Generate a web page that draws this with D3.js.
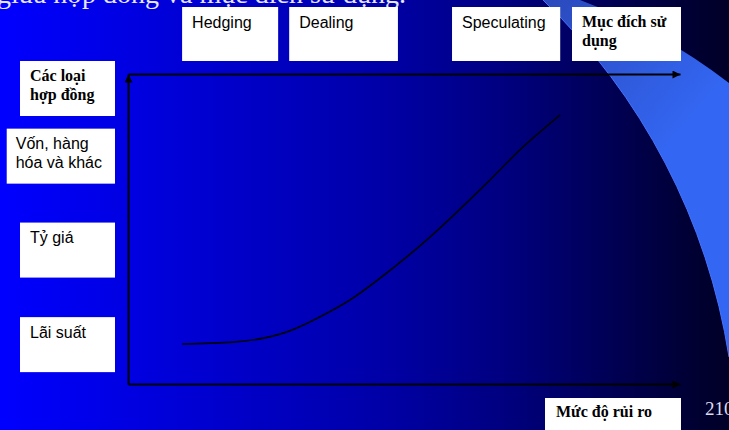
<!DOCTYPE html>
<html>
<head>
<meta charset="utf-8">
<script src="https://cdn.jsdelivr.net/npm/d3@7"></script>
<style>
  body { margin: 0; background: #00002a; overflow: hidden; }
  svg { display: block; }
  .box { fill: #fff; }
  .sans { font-family: 'Liberation Sans', Arial, sans-serif; font-size: 16px; fill: #000; }
  .serif-bold { font-family: 'Liberation Serif', 'Times New Roman', serif; font-size: 16px; font-weight: bold; fill: #000; }
  .axis path.domain { stroke: #000; stroke-width: 2; }
</style>
</head>
<body>
<svg id="chart" width="729" height="430"></svg>
<script>
// Loai hop dong (truc doc), tu duoi len; muc rui ro tuong ung (0-100)
var contractTypes = [['Lãi suất'], ['Tỷ giá'], ['Vốn, hàng', 'hóa và  khác']];
var contractLevels = [12.7, 43.2, 73.5];

// Muc dich su dung (truc ngang): khoang rui ro tu .. den
var purposes = ['Hedging', 'Dealing', 'Speculating'];
var purposeFrom = [9.8, 29.2, 58.7];
var purposeTo = [27.2, 48.9, 78.3];

// Duong cong rui ro
var riskX = [9.8, 19.0, 28.8, 36.1, 40.2, 45.7, 54.7, 65.0, 71.0, 78.3];
var riskY = [12.9, 13.5, 16.8, 22.9, 27.1, 34.2, 47.4, 64.8, 75.5, 86.8];

var yTitle = ['Các loại', 'hợp đồng'];
var xTopTitle = ['Mục đích sử', 'dụng'];
var xBottomTitle = 'Mức độ rủi ro';
var slideTitle = 'Mối quan hệ giữa hợp đồng và mục đích sử dụng.';
var pageNumber = '210';

var svg = d3.select('#chart');
var W = 729, H = 430;

var x = d3.scaleLinear().domain([0, 100]).range([128, 680]);
var y = d3.scaleLinear().domain([0, 100]).range([384, 74]);

/*
 * Background gradient + decorative band
 */
var defs = svg.append('defs');
var bg = defs.append('linearGradient').attr('id', 'bg')
  .attr('x1', 0).attr('x2', 1).attr('y1', 0).attr('y2', 0);
[[0, '#0000ff'], [0.14, '#0000e8'], [0.52, '#0000a8'], [0.69, '#000080'], [0.96, '#000030'], [1, '#000028']]
  .forEach(function(s) {
    bg.append('stop').attr('offset', s[0]).attr('stop-color', s[1]);
  });

var bandGrad = defs.append('linearGradient').attr('id', 'band')
  .attr('gradientUnits', 'userSpaceOnUse')
  .attr('x1', 550).attr('y1', 0).attr('x2', 690).attr('y2', 120);
bandGrad.append('stop').attr('offset', 0).attr('stop-color', '#2b4abd');
bandGrad.append('stop').attr('offset', 1).attr('stop-color', '#3366f2');

defs.append('marker')
  .attr('id', 'arrow')
  .attr('viewBox', '0 0 10 10')
  .attr('refX', 10).attr('refY', 5)
  .attr('markerUnits', 'userSpaceOnUse')
  .attr('markerWidth', 9).attr('markerHeight', 8)
  .attr('orient', 'auto')
  .append('path')
  .attr('d', 'M0,0L10,5L0,10Z')
  .attr('fill', '#000');

svg.append('rect').attr('width', W).attr('height', H).attr('fill', 'url(#bg)');

svg.append('path')
  .attr('d', 'M543,0A630,630 0 0 1 729,357L729,83Q660,30 580,0Z')
  .attr('fill', 'url(#band)');
svg.append('path')
  .attr('d', 'M543,0A630,630 0 0 1 729,357')
  .attr('fill', 'none')
  .attr('stroke', '#4674ff')
  .attr('stroke-width', 1);

// title cut by the top edge
svg.append('text')
  .attr('x', 406).attr('y', 3)
  .attr('text-anchor', 'end')
  .attr('font-family', "'Liberation Serif', 'Times New Roman', serif")
  .attr('font-size', 28)
  .attr('fill', '#e6e6ff')
  .text(slideTitle);

/*
 * Axes
 */
function axisLine(g) {
  g.attr('class', 'axis');
  g.select('.domain').attr('marker-end', 'url(#arrow)');
}

svg.append('g')
  .attr('transform', 'translate(0,' + y(0) + ')')
  .call(d3.axisBottom(x).tickValues([]).tickSizeOuter(0))
  .call(axisLine);

svg.append('g')
  .attr('transform', 'translate(0,' + y(100) + ')')
  .call(d3.axisTop(x).tickValues([]).tickSizeOuter(0))
  .call(axisLine);

svg.append('g')
  .attr('transform', 'translate(' + x(0) + ',0)')
  .call(d3.axisLeft(y).tickValues([]).tickSizeOuter(0))
  .call(axisLine);

/*
 * Curve
 */
var points = riskX.map(function(v, i) { return [v, riskY[i]]; });
svg.append('path')
  .datum(points)
  .attr('d', d3.line()
    .x(function(d) { return x(d[0]); })
    .y(function(d) { return y(d[1]); })
    .curve(d3.curveMonotoneX))
  .attr('fill', 'none')
  .attr('stroke', '#000010')
  .attr('stroke-width', 1.7);

/*
 * Purpose boxes (top)
 */
var boxTop = 7, boxH = 54;
var purposeG = svg.selectAll('.purpose')
  .data(purposes)
  .enter().append('g')
  .attr('class', 'purpose');
purposeG.append('rect')
  .attr('class', 'box')
  .attr('x', function(d, i) { return x(purposeFrom[i]); })
  .attr('y', boxTop)
  .attr('width', function(d, i) { return x(purposeTo[i]) - x(purposeFrom[i]); })
  .attr('height', boxH);
purposeG.append('text')
  .attr('class', 'sans')
  .attr('x', function(d, i) { return x(purposeFrom[i]) + 10; })
  .attr('y', boxTop + 20.5)
  .text(function(d) { return d; });

function multiLine(sel, lines, x0, y0, lh) {
  var t = sel.append('text').attr('x', x0).attr('y', y0);
  lines.forEach(function(l, i) {
    t.append('tspan').attr('x', x0).attr('y', y0 + i * lh).text(l);
  });
  return t;
}

// Muc dich su dung header
svg.append('rect').attr('class', 'box')
  .attr('x', 572).attr('y', boxTop).attr('width', 109).attr('height', boxH);
multiLine(svg, xTopTitle, 582, 27, 19).attr('class', 'serif-bold');

/*
 * Contract boxes (left)
 */
var boxRight = 115, cH = 55;
contractTypes.forEach(function(lines, i) {
  var cy = y(contractLevels[i]);
  var g = svg.append('g').attr('class', 'contract');
  var rect = g.append('rect').attr('class', 'box');
  var t = multiLine(g, lines, 0, cy - cH / 2 + 20.5, 18.5).attr('class', 'sans');
  var textW = d3.max(t.selectAll('tspan').nodes(), function(n) { return n.getComputedTextLength(); });
  var w = Math.max(95, textW + 22);
  var left = boxRight - w;
  rect.attr('x', left).attr('y', cy - cH / 2).attr('width', w).attr('height', cH);
  var tx = w > 95 ? left + 9 : left + 10;
  t.attr('x', tx).selectAll('tspan').attr('x', tx);
});

// Cac loai hop dong header
svg.append('rect').attr('class', 'box')
  .attr('x', 20).attr('y', 61).attr('width', 95).attr('height', 55);
multiLine(svg, yTitle, 30, 80.5, 19).attr('class', 'serif-bold');

// Muc do rui ro
svg.append('rect').attr('class', 'box')
  .attr('x', 545).attr('y', 398).attr('width', 136).attr('height', 40);
svg.append('text').attr('class', 'serif-bold')
  .attr('x', 556).attr('y', 416.5)
  .text(xBottomTitle);

svg.append('text')
  .attr('x', 705).attr('y', 415)
  .attr('font-family', "'Liberation Serif', 'Times New Roman', serif")
  .attr('font-size', 19)
  .attr('fill', '#dcdcec')
  .text(pageNumber);
</script>
</body>
</html>
